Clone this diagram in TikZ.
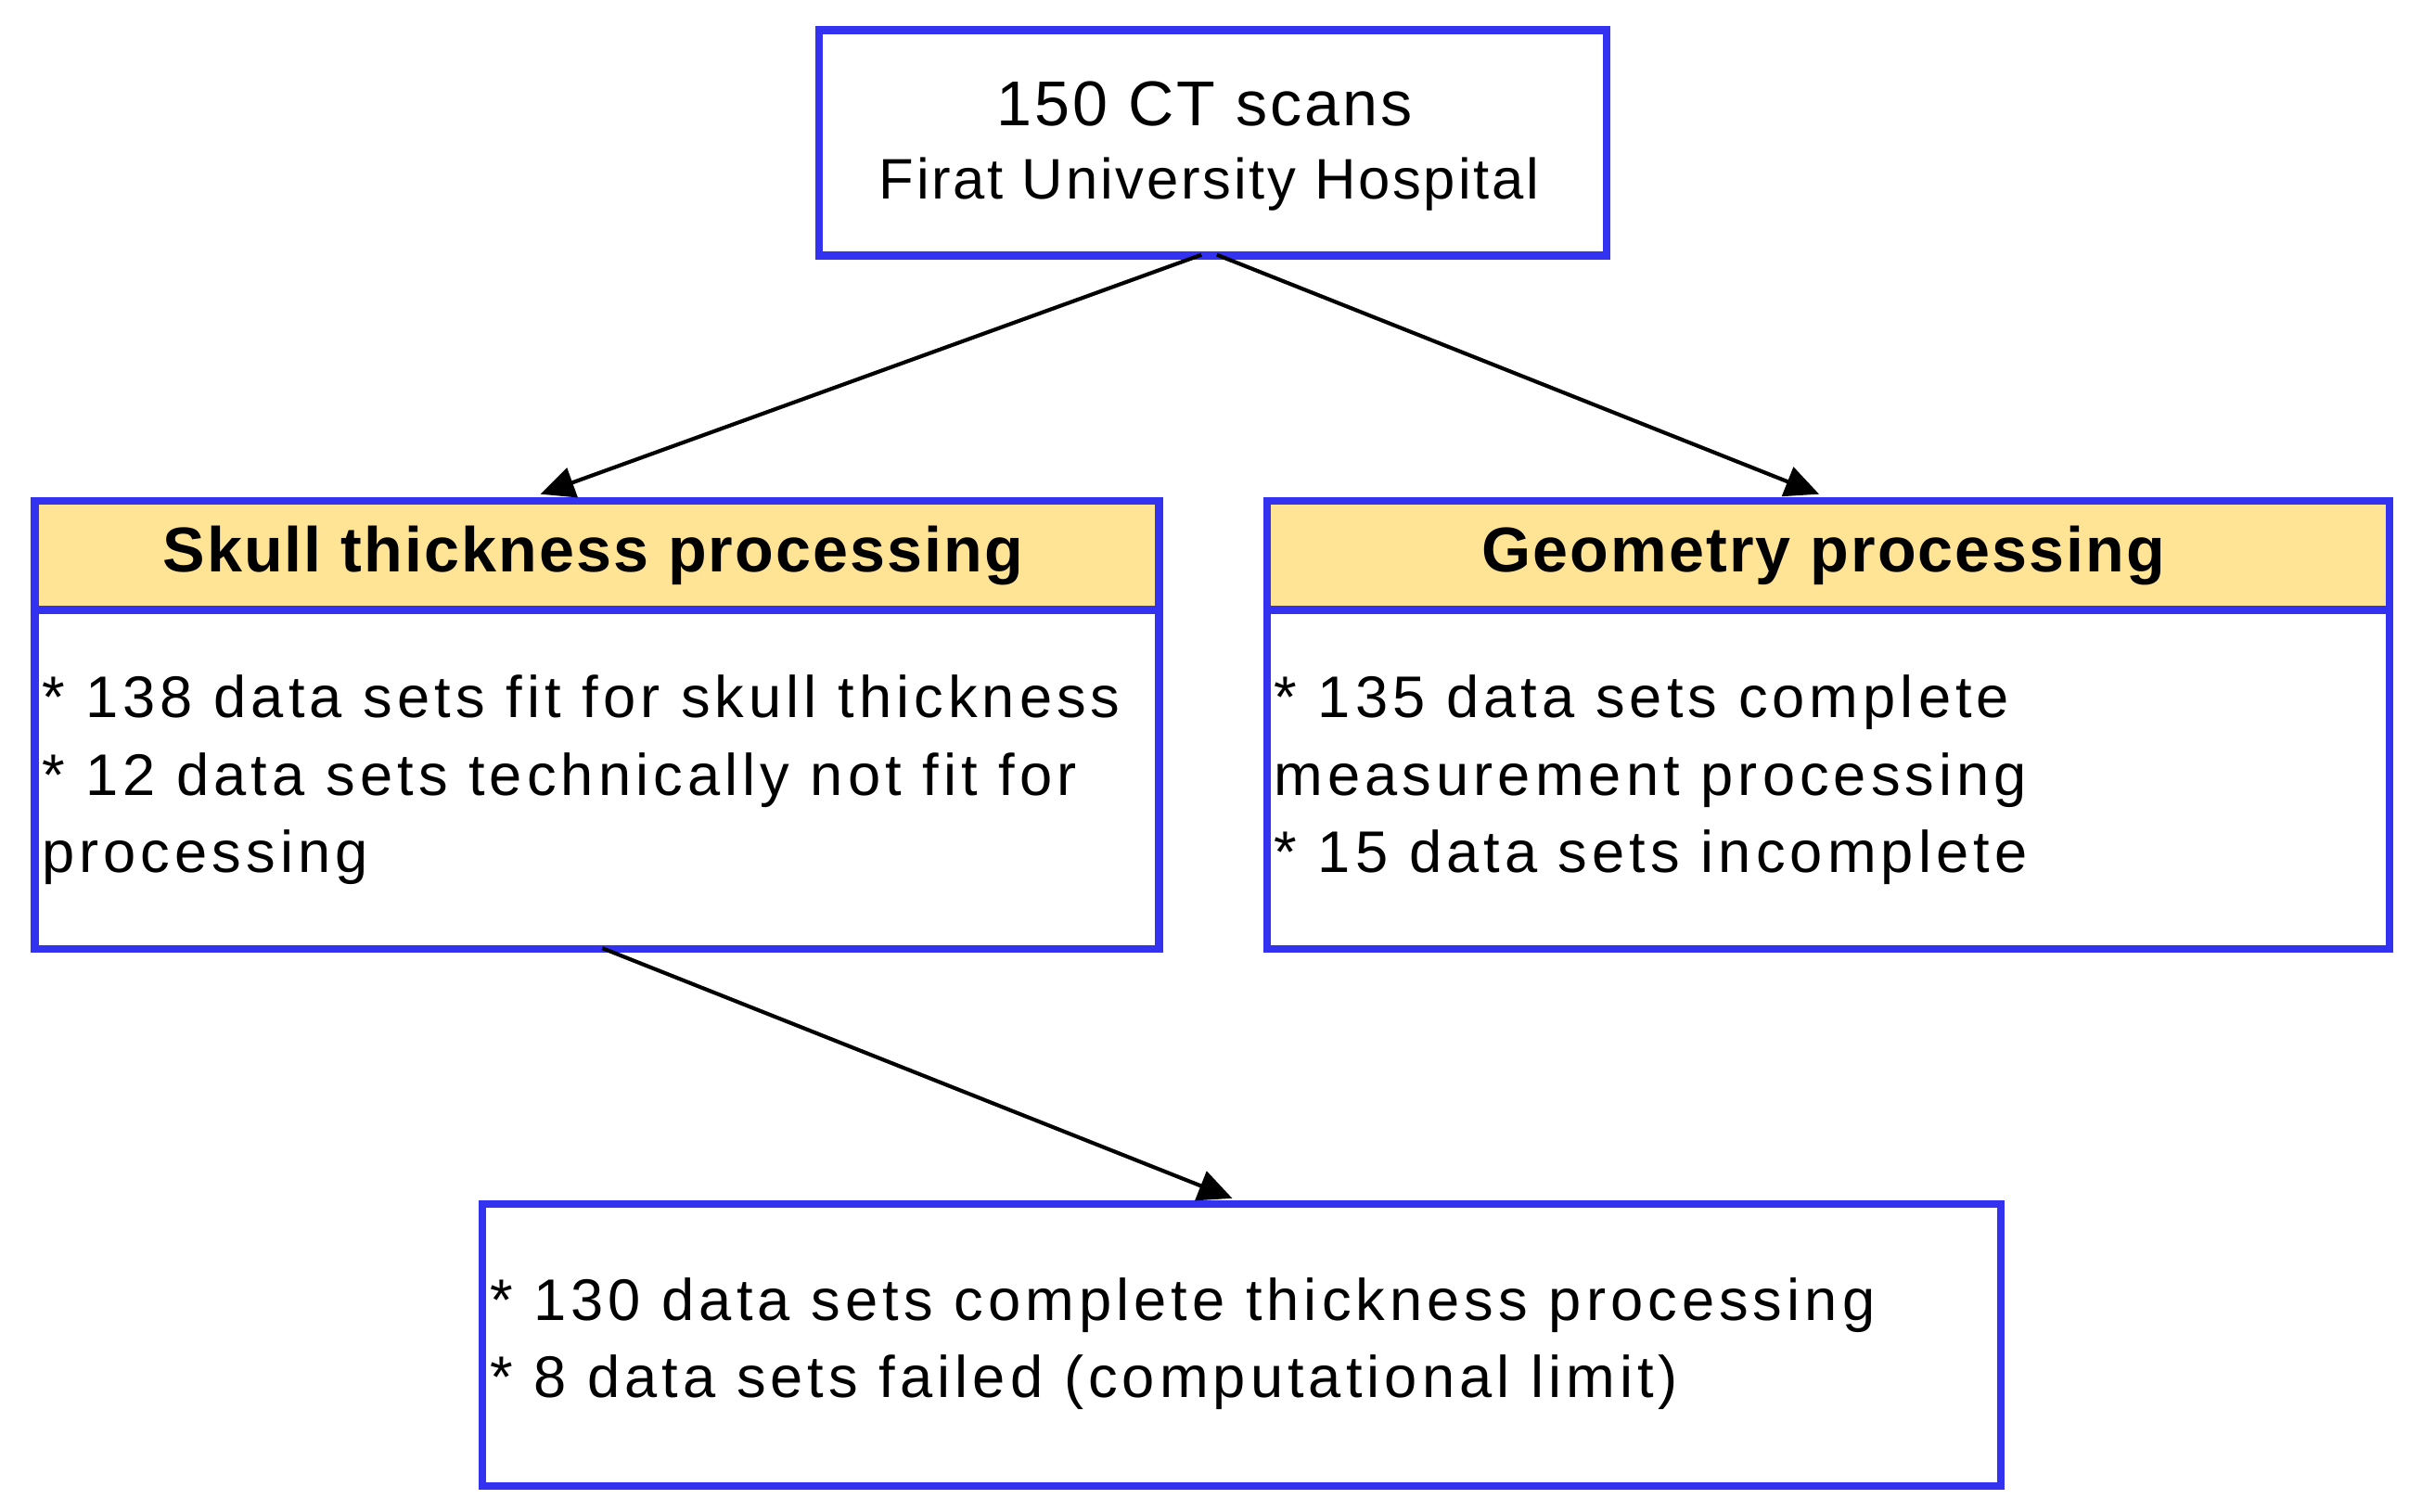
\documentclass[tikz,border=0pt]{standalone}
\usepackage{fontspec}
\setmainfont{Liberation Sans}
\newfontfamily\spaced[LetterSpace=8]{Liberation Sans}
\newfontfamily\spacedb[LetterSpace=3]{Liberation Sans}
\newfontfamily\spacedt[LetterSpace=4.5]{Liberation Sans}
\usetikzlibrary{arrows.meta}
\definecolor{bb}{RGB}{50,50,240}
\definecolor{hy}{RGB}{255,228,150}
\begin{document}
\begin{tikzpicture}[x=1pt,y=-1pt,
  box/.style={draw=bb,line width=5pt,inner sep=0pt,anchor=north west},
  txt/.style={anchor=west,inner sep=0pt,font=\spaced\fontsize{38}{50}\selectfont,align=left},
  hdr/.style={font=\spacedb\fontsize{41}{44}\selectfont\bfseries,inner sep=0pt},
  arr/.style={-{Triangle[length=22pt,width=20pt]},line width=2.5pt}]
\useasboundingbox (0,0) rectangle (1560,979);
% top
\node[box,minimum width=510pt,minimum height=146pt] (top) at (528,17) {};
\node[inner sep=0pt,font=\spacedt\fontsize{41}{48}\selectfont] (t1) at (780,67) {150 CT scans};
\node[inner sep=0pt,font=\spacedt\fontsize{37}{44}\selectfont] (t2) at (783,119) {Firat University Hospital};
% left
\fill[hy] (20,322) rectangle (748,395);
\node[box,minimum width=728pt,minimum height=290pt] (left) at (20,322) {};
\draw[bb,line width=5pt] (20,395) -- (748,395);
\node[hdr] (lh) at (384,360) {Skull thickness processing};
\node[txt] (lt) at (27,505) {* 138 data sets fit for skull thickness\\* 12 data sets technically not fit for\\processing};
% right
\fill[hy] (818,322) rectangle (1545,395);
\node[box,minimum width=727pt,minimum height=290pt] (right) at (818,322) {};
\draw[bb,line width=5pt] (818,395) -- (1545,395);
\node[hdr] (rh) at (1181,360) {Geometry processing};
\node[txt] (rt) at (825,505) {* 135 data sets complete\\measurement processing\\* 15 data sets incomplete};
% bottom
\node[box,minimum width=983pt,minimum height=183pt] (bot) at (310,777) {};
\node[txt] (bt) at (317,870) {* 130 data sets complete thickness processing\\* 8 data sets failed (computational limit)};
% arrows
\coordinate (a0) at (778,165); \coordinate (a1) at (350,320);
\coordinate (b0) at (788,165); \coordinate (b1) at (1178,320);
\coordinate (c0) at (390,614); \coordinate (c1) at (798,776);
\draw[arr] (a0) -- (a1);
\draw[arr] (b0) -- (b1);
\draw[arr] (c0) -- (c1);
\end{tikzpicture}
\end{document}
